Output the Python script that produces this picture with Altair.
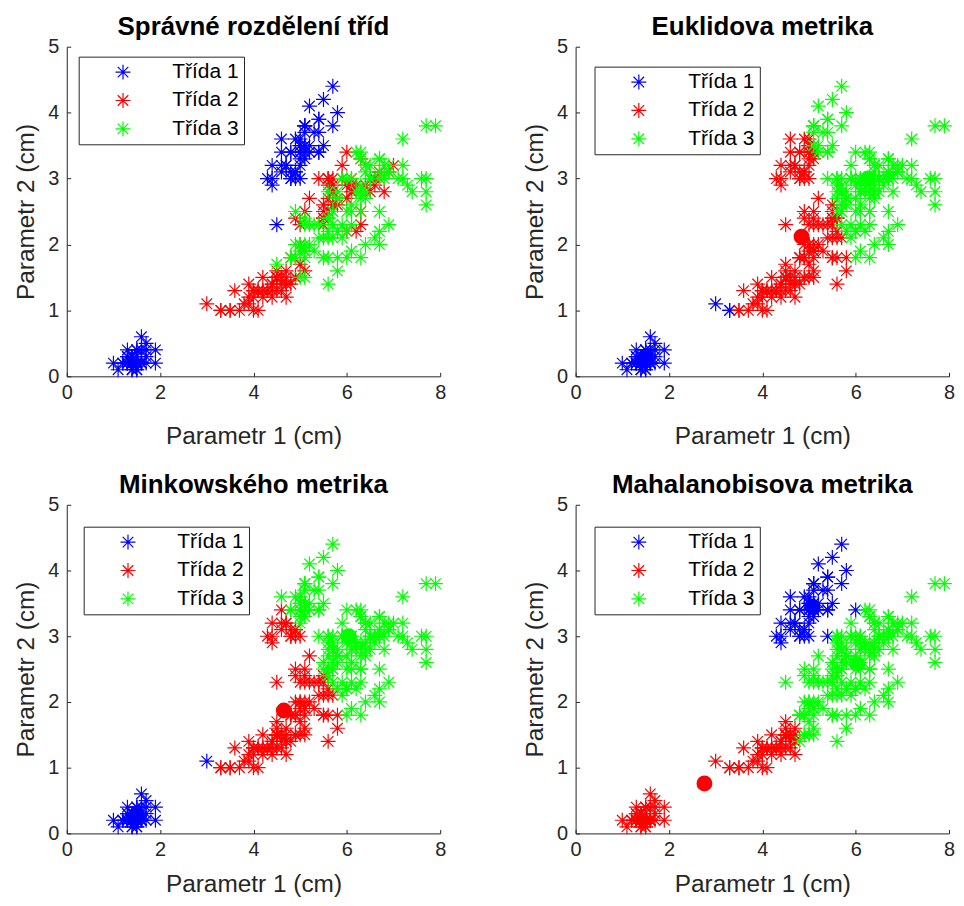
import altair as alt
import pandas as pd

# ---- Fisher iris measurements (two 2-D projections plotted together) ----
sepal_len = [5.1,4.9,4.7,4.6,5.0,5.4,4.6,5.0,4.4,4.9, 5.4,4.8,4.8,4.3,5.8,5.7,5.4,5.1,5.7,5.1,
             5.4,5.1,4.6,5.1,4.8,5.0,5.0,5.2,5.2,4.7, 4.8,5.4,5.2,5.5,4.9,5.0,5.5,4.9,4.4,5.1,
             5.0,4.5,4.4,5.0,5.1,4.8,5.1,4.6,5.3,5.0, 7.0,6.4,6.9,5.5,6.5,5.7,6.3,4.9,6.6,5.2,
             5.0,5.9,6.0,6.1,5.6,6.7,5.6,5.8,6.2,5.6, 5.9,6.1,6.3,6.1,6.4,6.6,6.8,6.7,6.0,5.7,
             5.5,5.5,5.8,6.0,5.4,6.0,6.7,6.3,5.6,5.5, 5.5,6.1,5.8,5.0,5.6,5.7,5.7,6.2,5.1,5.7,
             6.3,5.8,7.1,6.3,6.5,7.6,4.9,7.3,6.7,7.2, 6.5,6.4,6.8,5.7,5.8,6.4,6.5,7.7,7.7,6.0,
             6.9,5.6,7.7,6.3,6.7,7.2,6.2,6.1,6.4,7.2, 7.4,7.9,6.4,6.3,6.1,7.7,6.3,6.4,6.0,6.9,
             6.7,6.9,5.8,6.8,6.7,6.7,6.3,6.5,6.2,5.9]
sepal_wid = [3.5,3.0,3.2,3.1,3.6,3.9,3.4,3.4,2.9,3.1, 3.7,3.4,3.0,3.0,4.0,4.4,3.9,3.5,3.8,3.8,
             3.4,3.7,3.6,3.3,3.4,3.0,3.4,3.5,3.4,3.2, 3.1,3.4,4.1,4.2,3.1,3.2,3.5,3.6,3.0,3.4,
             3.5,2.3,3.2,3.5,3.8,3.0,3.8,3.2,3.7,3.3, 3.2,3.2,3.1,2.3,2.8,2.8,3.3,2.4,2.9,2.7,
             2.0,3.0,2.2,2.9,2.9,3.1,3.0,2.7,2.2,2.5, 3.2,2.8,2.5,2.8,2.9,3.0,2.8,3.0,2.9,2.6,
             2.4,2.4,2.7,2.7,3.0,3.4,3.1,2.3,3.0,2.5, 2.6,3.0,2.6,2.3,2.7,3.0,2.9,2.9,2.5,2.8,
             3.3,2.7,3.0,2.9,3.0,3.0,2.5,2.9,2.5,3.6, 3.2,2.7,3.0,2.5,2.8,3.2,3.0,3.8,2.6,2.2,
             3.2,2.8,2.8,2.7,3.3,3.2,2.8,3.0,2.8,3.0, 2.8,3.8,2.8,2.8,2.6,3.0,3.4,3.1,3.0,3.1,
             3.1,3.1,2.7,3.2,3.3,3.0,2.5,3.0,3.4,3.0]
petal_len = [1.4,1.4,1.3,1.5,1.4,1.7,1.4,1.5,1.4,1.5, 1.5,1.6,1.4,1.1,1.2,1.5,1.3,1.4,1.7,1.5,
             1.7,1.5,1.0,1.7,1.9,1.6,1.6,1.5,1.4,1.6, 1.6,1.5,1.5,1.4,1.5,1.2,1.3,1.4,1.3,1.5,
             1.3,1.3,1.3,1.6,1.9,1.4,1.6,1.4,1.5,1.4, 4.7,4.5,4.9,4.0,4.6,4.5,4.7,3.3,4.6,3.9,
             3.5,4.2,4.0,4.7,3.6,4.4,4.5,4.1,4.5,3.9, 4.8,4.0,4.9,4.7,4.3,4.4,4.8,5.0,4.5,3.5,
             3.8,3.7,3.9,5.1,4.5,4.5,4.7,4.4,4.1,4.0, 4.4,4.6,4.0,3.3,4.2,4.2,4.2,4.3,3.0,4.1,
             6.0,5.1,5.9,5.6,5.8,6.6,4.5,6.3,5.8,6.1, 5.1,5.3,5.5,5.0,5.1,5.3,5.5,6.7,6.9,5.0,
             5.7,4.9,6.7,4.9,5.7,6.0,4.8,4.9,5.6,5.8, 6.1,6.4,5.6,5.1,5.6,6.1,5.6,5.5,4.8,5.4,
             5.6,5.1,5.1,5.9,5.7,5.2,5.0,5.2,5.4,5.1]
petal_wid = [0.2,0.2,0.2,0.2,0.2,0.4,0.3,0.2,0.2,0.1, 0.2,0.2,0.1,0.1,0.2,0.4,0.4,0.3,0.3,0.3,
             0.2,0.4,0.2,0.5,0.2,0.2,0.4,0.2,0.2,0.2, 0.2,0.4,0.1,0.2,0.2,0.2,0.2,0.1,0.2,0.2,
             0.3,0.3,0.2,0.6,0.4,0.3,0.2,0.2,0.2,0.2, 1.4,1.5,1.5,1.3,1.5,1.3,1.6,1.0,1.3,1.4,
             1.0,1.5,1.0,1.4,1.3,1.4,1.5,1.0,1.5,1.1, 1.8,1.3,1.5,1.2,1.3,1.4,1.4,1.7,1.5,1.0,
             1.1,1.0,1.2,1.6,1.5,1.6,1.5,1.3,1.3,1.3, 1.2,1.4,1.2,1.0,1.3,1.2,1.3,1.3,1.1,1.3,
             2.5,1.9,2.1,1.8,2.2,2.1,1.7,1.8,1.8,2.5, 2.0,1.9,2.1,2.0,2.4,2.3,1.8,2.2,2.3,1.5,
             2.3,2.0,2.0,1.8,2.1,1.8,1.8,1.8,2.1,1.6, 1.9,2.0,2.2,1.5,1.4,2.3,2.4,1.8,1.8,2.1,
             2.4,2.3,1.9,2.3,2.5,2.3,1.9,2.0,2.3,1.8]

# ---- class labels per panel (one digit per sample, groups of ten) ----
true_petal = ("1111111111 1111111111 1111111111 1111111111 1111111111 "
              "2222222222 2222222222 2222222222 2222222222 2222222222 "
              "3333333333 3333333333 3333333333 3333333333 3333333333")
true_sepal = true_petal
euclid_petal = ("1111111111 1111111111 1111111111 1111111111 1111111111 "
                "2222222122 2222222222 2222222222 2222222222 2221222212 "
                "3232332323 2222222332 3232232222 3322232222 2223322222")
euclid_sepal = ("3222232222 3222333333 3322222332 2333223222 2222323232 "
                "3332333232 2333333333 3333333333 2233333332 2332333323 "
                "3333332333 3333333333 3333333333 3333333333 3333333333")
minkow_petal = ("1111111111 1111111111 1111111111 1111111111 1111111111 "
                "2222222222 2222222222 2222222222 2222222222 2222222212 "
                "3232332323 2222222332 3232232222 3322233222 3223322222")
minkow_sepal = ("3222332322 3322333333 3333323332 2333233323 3223323233 "
                "3332333232 2333333333 3333333333 2233333333 3332333323 "
                "3333332333 3333333333 3333333333 3333333333 3333333333")
mahal_petal = ("2222222222 2222222222 2222222222 2222222222 2222222222 "
               "2232222222 2222222222 3232223322 2223222222 2222222222 "
               "3333332333 3333333333 3333333333 3333333333 3333333333")
mahal_sepal = ("1111111111 1111111111 1111111111 1111111111 1311111111 "
               "3333333333 3333333333 3333333333 3333113333 3333333333 "
               "3333333333 3333333333 3333333333 3333333333 3333333333")

# ---- cluster centres (filled dots) ----
euclid_cx, euclid_cy, euclid_cc = [1.50, 4.84, 6.26], [0.30, 2.12, 3.00], [1, 2, 3]
minkow_cx, minkow_cy, minkow_cc = [1.50, 4.65, 6.04], [0.28, 1.87, 3.00], [1, 2, 3]
mahal_cx, mahal_cy, mahal_cc = [5.07, 2.76, 6.03], [3.45, 0.76, 2.58], [1, 2, 3]

titles = ["Správné rozdělení tříd", "Euklidova metrika", "Minkowského metrika", "Mahalanobisova metrika"]
class_names = ["Třída 1", "Třída 2", "Třída 3"]
class_colors = ["#0000ff", "#ff0000", "#00ff00"]
x_ticks = [0, 2, 4, 6, 8]
y_ticks = [0, 1, 2, 3, 4, 5]

STAR = "M-1,0L1,0M0,-1L0,1M-0.7071,-0.7071L0.7071,0.7071M-0.7071,0.7071L0.7071,-0.7071"
FONT = "Liberation Sans"
AXC = "#262626"


def labels(s):
    return [int(c) for c in s.replace(" ", "")]


def points_frame(petal_lab, sepal_lab):
    rows = []
    pl, sl = labels(petal_lab), labels(sepal_lab)
    for i in range(150):
        rows.append({"x": petal_len[i], "y": petal_wid[i], "cls": class_names[pl[i] - 1]})
        rows.append({"x": sepal_len[i], "y": sepal_wid[i], "cls": class_names[sl[i] - 1]})
    df = pd.DataFrame(rows)
    df["order"] = df["cls"].map({c: k for k, c in enumerate(class_names)})
    return df.sort_values("order", kind="stable")


def panel(title, df, cent, lx, ly, h, xtp):
    xs = alt.Scale(domain=[0, 8], nice=False, zero=False)
    ys = alt.Scale(domain=[0, 5], nice=False, zero=False)
    xenc = alt.X("x:Q", scale=xs,
                 axis=alt.Axis(values=x_ticks, title="Parametr 1 (cm)", format="d", orient="bottom",
                               labelPadding=6, titlePadding=xtp, labelFlush=False))
    yenc = alt.Y("y:Q", scale=ys,
                 axis=alt.Axis(values=y_ticks, title="Parametr 2 (cm)", format="d", orient="left",
                               labelPadding=8, titlePadding=9, labelFlush=False))
    scale = alt.Scale(domain=class_names, range=class_colors)
    stars = alt.Chart(df).mark_point(shape=STAR, filled=False, size=225, strokeWidth=1.2, opacity=1).encode(
        x=xenc, y=yenc,
        stroke=alt.Stroke("cls:N", scale=scale, legend=alt.Legend(
            orient="none", legendX=lx, legendY=ly, title=None,
            symbolType=STAR, symbolSize=225, symbolStrokeWidth=1.2,
            symbolFillColor="transparent", symbolOffset=29,
            labelFont=FONT, labelFontSize=21, labelColor="#000000", labelOffset=39,
            padding=5, rowPadding=6.5, strokeColor=AXC, fillColor="#ffffff",
            cornerRadius=0)),
        order=alt.Order("order:Q"))
    # inward tick marks (MATLAB style): a ticks-only axis pulled inside the plot
    tick_layer = alt.Chart(df).mark_point(opacity=0).encode(
        x=alt.X("x:Q", scale=xs, axis=alt.Axis(values=x_ticks, orient="bottom", offset=-4, ticks=True,
                                                tickSize=4, tickColor=AXC, labels=False, domain=False,
                                                title=None)),
        y=alt.Y("y:Q", scale=ys, axis=alt.Axis(values=y_ticks, orient="left", offset=-4, ticks=True,
                                                tickSize=4, tickColor=AXC, labels=False, domain=False,
                                                title=None)))
    layers = [stars, tick_layer]
    if cent is not None:
        cdf = pd.DataFrame({"x": cent[0], "y": cent[1], "cls": [class_names[c - 1] for c in cent[2]]})
        dots = alt.Chart(cdf).mark_circle(size=254, opacity=1).encode(
            x=alt.X("x:Q", scale=xs, axis=None), y=alt.Y("y:Q", scale=ys, axis=None),
            color=alt.Color("cls:N", scale=scale, legend=None))
        layers.append(dots)
    return alt.layer(*layers).properties(width=375, height=h, title=title).resolve_scale(
        color="independent", stroke="independent").resolve_axis(x="independent", y="independent")


p1 = panel(titles[0], points_frame(true_petal, true_sepal), None, 12, 10, 331, 22)
p2 = panel(titles[1], points_frame(euclid_petal, euclid_sepal), (euclid_cx, euclid_cy, euclid_cc), 19, 20, 331, 22)
p3 = panel(titles[2], points_frame(minkow_petal, minkow_sepal), (minkow_cx, minkow_cy, minkow_cc), 17, 22, 330, 13)
p4 = panel(titles[3], points_frame(mahal_petal, mahal_sepal), (mahal_cx, mahal_cy, mahal_cc), 19, 22, 330, 13)

top = alt.hconcat(p1, p2, spacing=75).resolve_scale(
    stroke="independent", color="independent").resolve_legend(stroke="independent")
bottom = alt.hconcat(p3, p4, spacing=75).resolve_scale(
    stroke="independent", color="independent").resolve_legend(stroke="independent")

chart = alt.vconcat(top, bottom, spacing=23).resolve_scale(
    stroke="independent", color="independent").resolve_legend(stroke="independent").properties(
    padding={"left": 5, "top": 3, "right": 0, "bottom": 0}
).configure_view(stroke="transparent").configure_axis(
    grid=False, ticks=False,
    labelFont=FONT, labelFontSize=20, labelColor=AXC,
    titleFont=FONT, titleFontSize=24.5, titleFontWeight="normal", titleColor=AXC,
    domainColor=AXC, domainWidth=1
).configure_title(
    font=FONT, fontSize=26, fontWeight="bold", color="#000000", offset=-3, frame="group"
)

chart.save("out.html", embed_options={"renderer": "svg", "actions": False})
